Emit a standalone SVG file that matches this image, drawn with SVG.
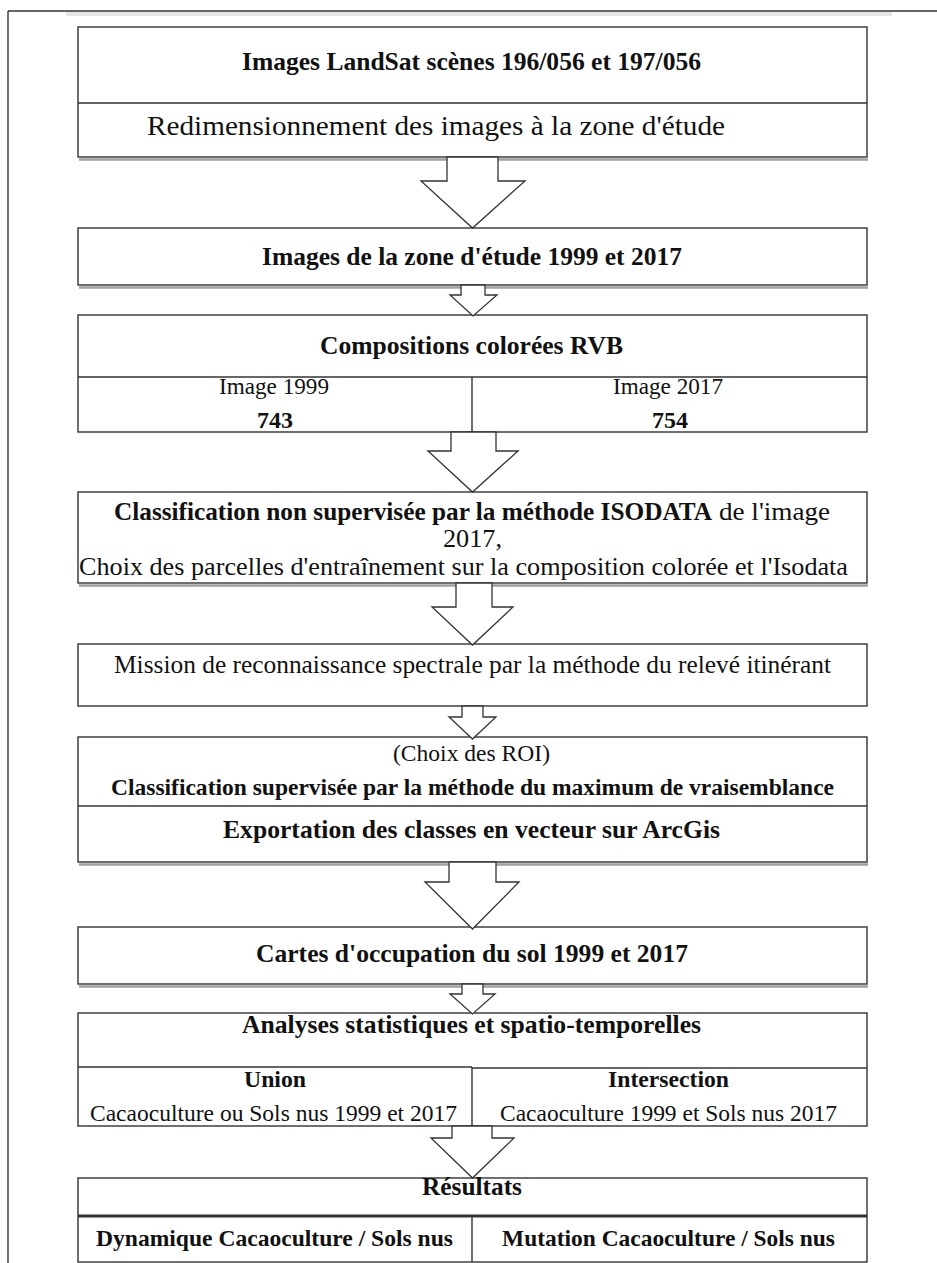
<svg xmlns="http://www.w3.org/2000/svg" width="937" height="1263" viewBox="0 0 937 1263">
<style>
.box{fill:#fff;stroke:#333;stroke-width:1.4}
.ln{stroke:#333;stroke-width:1.4;fill:none}
.shadow{stroke:#a0a0a0;stroke-width:2.5;fill:none}
.arrow{fill:#fff;stroke:#333;stroke-width:1.3;stroke-linejoin:miter}
text{font-family:"Liberation Serif","Times New Roman",serif;fill:#111}
.b{font-weight:bold}
.a{font-size:25.5px}
.s{font-size:23.5px}
</style>
<rect width="937" height="1263" fill="#fff"/>
<g id="frame">
<rect x="66" y="12" width="826" height="4" fill="#e6e6e6"/>
<line class="ln" x1="8" y1="11" x2="937" y2="11"/>
<line class="ln" x1="8" y1="11" x2="8" y2="1263"/>
</g>
<g id="node1">
<rect class="box" x="78" y="27" width="789" height="130"/>
<line class="ln" x1="78" y1="103" x2="867" y2="103"/>
<line class="shadow" x1="79" y1="159.5" x2="868" y2="159.5"/>
<text class="b a" x="242" y="70" textLength="459" lengthAdjust="spacingAndGlyphs">Images LandSat scènes 196/056 et 197/056</text>
<text class="a" x="147" y="135" textLength="578" lengthAdjust="spacingAndGlyphs" style="font-size:27px">Redimensionnement des images à la zone d'étude</text>
</g>
<g id="node2">
<rect class="box" x="78" y="228" width="789" height="57"/>
<line class="shadow" x1="79" y1="287.5" x2="868" y2="287.5"/>
<text class="b a" x="262" y="265" textLength="420" lengthAdjust="spacingAndGlyphs">Images de la zone d'étude 1999 et 2017</text>
</g>
<g id="node3">
<rect class="box" x="78" y="315" width="789" height="117"/>
<line class="ln" x1="78" y1="377" x2="867" y2="377"/>
<line class="ln" x1="472" y1="377" x2="472" y2="432"/>
<text class="b a" x="320" y="354" textLength="303" lengthAdjust="spacingAndGlyphs">Compositions colorées RVB</text>
<text class="s" x="219" y="394" textLength="110" lengthAdjust="spacingAndGlyphs">Image 1999</text>
<text class="b s" x="257" y="428" textLength="36" lengthAdjust="spacingAndGlyphs">743</text>
<text class="s" x="613" y="394" textLength="110" lengthAdjust="spacingAndGlyphs">Image 2017</text>
<text class="b s" x="652" y="428" textLength="36" lengthAdjust="spacingAndGlyphs">754</text>
</g>
<g id="node4">
<rect class="box" x="78" y="492" width="789" height="91"/>
<line class="shadow" x1="79" y1="585.5" x2="868" y2="585.5"/>
<text class="b a" x="114" y="520" textLength="598" lengthAdjust="spacingAndGlyphs">Classification non supervisée par la méthode ISODATA</text>
<text class="a" x="719" y="520" textLength="111" lengthAdjust="spacingAndGlyphs">de l'image</text>
<text class="a" x="443" y="547" textLength="59" lengthAdjust="spacingAndGlyphs">2017,</text>
<text class="a" x="79" y="575" textLength="769" lengthAdjust="spacingAndGlyphs">Choix des parcelles d'entraînement sur la composition colorée et l'Isodata</text>
</g>
<g id="node5">
<rect class="box" x="78" y="644" width="789" height="62"/>
<text class="a" x="114" y="673" textLength="717" lengthAdjust="spacingAndGlyphs">Mission de reconnaissance spectrale par la méthode du relevé itinérant</text>
</g>
<g id="node6">
<rect class="box" x="78" y="737" width="789" height="125"/>
<line class="ln" x1="78" y1="806" x2="867" y2="806"/>
<line class="shadow" x1="79" y1="864.5" x2="868" y2="864.5"/>
<text class="s" x="393" y="761" textLength="157" lengthAdjust="spacingAndGlyphs">(Choix des ROI)</text>
<text class="b s" x="111" y="795" textLength="723" lengthAdjust="spacingAndGlyphs">Classification supervisée par la méthode du maximum de vraisemblance</text>
<text class="b a" x="223" y="838" textLength="497" lengthAdjust="spacingAndGlyphs">Exportation des classes en vecteur sur ArcGis</text>
</g>
<g id="node7">
<rect class="box" x="78" y="927" width="789" height="57"/>
<line class="shadow" x1="79" y1="986.5" x2="868" y2="986.5"/>
<text class="b a" x="256" y="962" textLength="432" lengthAdjust="spacingAndGlyphs">Cartes d'occupation du sol 1999 et 2017</text>
</g>
<g id="node8">
<rect class="box" x="78" y="1013" width="789" height="113"/>
<line class="ln" x1="78" y1="1067" x2="472" y2="1067"/>
<line class="ln" x1="472" y1="1068" x2="867" y2="1068"/>
<line class="ln" x1="472" y1="1067" x2="472" y2="1126"/>
<text class="b a" x="242" y="1033" textLength="459" lengthAdjust="spacingAndGlyphs">Analyses statistiques et spatio-temporelles</text>
<text class="b s" x="244" y="1087" textLength="62" lengthAdjust="spacingAndGlyphs">Union</text>
<text class="b s" x="608" y="1087" textLength="121" lengthAdjust="spacingAndGlyphs">Intersection</text>
<text class="s" x="90" y="1121" textLength="367" lengthAdjust="spacingAndGlyphs">Cacaoculture ou Sols nus 1999 et 2017</text>
<text class="s" x="500" y="1121" textLength="337" lengthAdjust="spacingAndGlyphs">Cacaoculture 1999 et Sols nus 2017</text>
</g>
<g id="node9">
<rect class="box" x="78" y="1178" width="789" height="84"/>
<line class="ln" x1="78" y1="1216" x2="867" y2="1216" style="stroke-width:3"/>
<line class="ln" x1="472" y1="1216" x2="472" y2="1262"/>
<text class="b a" x="422" y="1195" textLength="100" lengthAdjust="spacingAndGlyphs">Résultats</text>
<text class="b s" x="96" y="1246" textLength="357" lengthAdjust="spacingAndGlyphs">Dynamique Cacaoculture / Sols nus</text>
<text class="b s" x="502" y="1246" textLength="333" lengthAdjust="spacingAndGlyphs">Mutation Cacaoculture / Sols nus</text>
</g>
<g id="connectors">
<polygon class="arrow" points="447,157 498,157 498,181 525,181 472.5,228 421,181 447,181"/>
<polygon class="arrow" points="461,285 485,285 485,295 497,295 473,316 450,295 461,295"/>
<polygon class="arrow" points="451,432 496,432 496,451 518,451 472.5,492 428,451 451,451"/>
<polygon class="arrow" points="456,583 492,583 492,607 513,607 472.5,645 432,607 456,607"/>
<polygon class="arrow" points="462,706 483,706 483,717 496,717 472.5,739 449,717 462,717"/>
<polygon class="arrow" points="449,862 496,862 496,882 519,882 472.5,929 425,882 449,882"/>
<polygon class="arrow" points="462,984 483,984 483,994 495,994 472.5,1014 450,994 462,994"/>
<polygon class="arrow" points="452,1126 492,1126 492,1138 514,1138 472.5,1178 431,1138 452,1138"/>
</g>
</svg>
